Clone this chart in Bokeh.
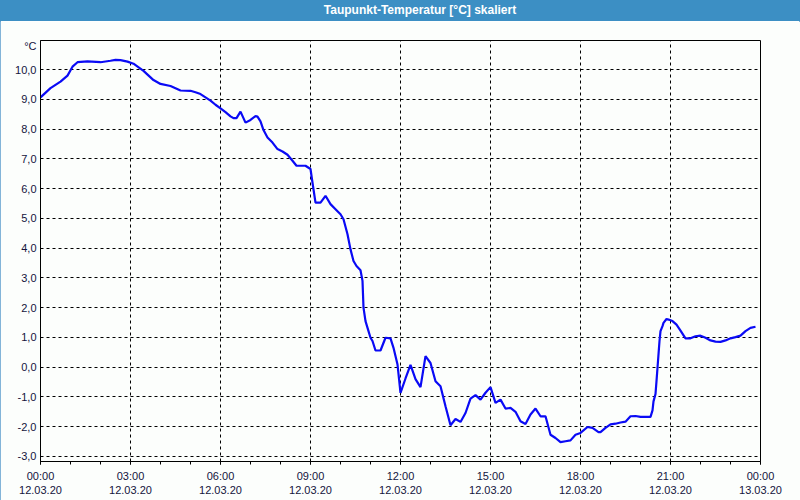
from bokeh.plotting import figure
from bokeh.models import Range1d, FixedTicker, Div
from bokeh.layouts import column
from bokeh.embed import file_html
from bokeh.resources import INLINE

# time in minutes since 12.03.20 00:00, dew point in °C
minutes = [0, 20, 40, 54, 64, 74, 94, 120, 140, 150, 160, 174, 186, 206, 226, 240,
           260, 280, 300, 310, 320, 330, 340, 350, 360, 370, 380, 386, 392, 400, 410,
           420, 430, 434, 440, 446, 454, 464, 474, 484, 494, 504, 512, 530, 540, 544,
           550, 560, 570, 580, 590, 600, 606, 614, 620, 626, 632, 640, 644, 646, 650,
           656, 660, 664, 670, 680, 690, 700, 706, 714, 720, 730, 740, 750, 760, 770,
           780, 790, 800, 810, 820, 830, 840, 850, 860, 870, 880, 890, 900, 910, 920,
           930, 940, 950, 960, 970, 980, 990, 1000, 1010, 1020, 1030, 1040, 1050, 1060,
           1070, 1080, 1094, 1104, 1116, 1120, 1130, 1140, 1150, 1160, 1170, 1180, 1190,
           1200, 1220, 1224, 1226, 1230, 1232, 1234, 1236, 1238, 1240, 1244, 1246, 1252,
           1256, 1264, 1272, 1280, 1290, 1300, 1310, 1320, 1330, 1340, 1350, 1360, 1370,
           1380, 1390, 1400, 1410, 1420, 1430]
dewpoint = [9.07, 9.38, 9.6, 9.8, 10.1, 10.25, 10.28, 10.25, 10.3, 10.33, 10.32, 10.27,
            10.2, 9.96, 9.65, 9.52, 9.45, 9.3, 9.29, 9.24, 9.18, 9.07, 8.96, 8.82, 8.7,
            8.57, 8.43, 8.37, 8.37, 8.59, 8.22, 8.31, 8.44, 8.42, 8.26, 7.97, 7.72, 7.55,
            7.33, 7.25, 7.14, 6.94, 6.77, 6.77, 6.66, 6.2, 5.53, 5.53, 5.76, 5.48, 5.31,
            5.14, 4.97, 4.47, 3.96, 3.57, 3.4, 3.26, 2.9, 2.0, 1.55, 1.21, 0.99, 0.88,
            0.56, 0.56, 0.99, 0.97, 0.65, 0.09, -0.86, -0.38, 0.08, -0.4, -0.67, 0.37,
            0.14, -0.47, -0.64, -1.31, -1.95, -1.74, -1.84, -1.54, -1.06, -0.94, -1.09,
            -0.86, -0.67, -1.2, -1.09, -1.39, -1.37, -1.5, -1.82, -1.91, -1.59, -1.39,
            -1.65, -1.65, -2.27, -2.38, -2.52, -2.49, -2.46, -2.27, -2.21, -2.01, -2.04,
            -2.18, -2.18, -2.04, -1.92, -1.9, -1.86, -1.83, -1.65, -1.64, -1.67, -1.67,
            -1.45, -1.15, -0.9, -0.47, -0.02, 0.43, 0.88, 1.21, 1.38, 1.49, 1.62, 1.6,
            1.55, 1.43, 1.23, 0.97, 0.97, 1.04, 1.06, 0.99, 0.9, 0.86, 0.85, 0.9, 0.97,
            1.01, 1.06, 1.21, 1.32, 1.36]

x_ticks_h = [0, 3, 6, 9, 12, 15, 18, 21, 24]
x_tick_labels = ["00:00\n12.03.20", "03:00\n12.03.20", "06:00\n12.03.20",
                 "09:00\n12.03.20", "12:00\n12.03.20", "15:00\n12.03.20",
                 "18:00\n12.03.20", "21:00\n12.03.20", "00:00\n13.03.20"]
y_ticks = [-3, -2, -1, 0, 1, 2, 3, 4, 5, 6, 7, 8, 9, 10]
y_tick_labels = ["-3,0", "-2,0", "-1,0", "0,0", "1,0", "2,0", "3,0", "4,0", "5,0",
                 "6,0", "7,0", "8,0", "9,0", "10,0"]
title_text = "Taupunkt-Temperatur [°C] skaliert"
unit_text = "°C"
unit_pos = 10.78  # where the unit sits on the value axis, just below the top

FONT = "Liberation Sans"
TXT = "#14143c"
BG = "#fcfefc"

hours = [m / 60.0 for m in minutes]

p = figure(width=800, height=479, output_backend="svg", toolbar_location=None,
           x_range=Range1d(0, 24), y_range=Range1d(-3.17, 10.98),
           min_border_left=40, min_border_right=40, min_border_top=19,
           min_border_bottom=39, background_fill_color=BG, border_fill_color=BG,
           margin=(0, 0, 0, 0))
p.outline_line_color = "black"
p.outline_line_width = 1

p.line(hours, dewpoint, line_color="#0a0af5", line_width=2.2)

xa = p.xaxis[0]
xa.ticker = FixedTicker(ticks=x_ticks_h, minor_ticks=list(range(25)))
xa.major_label_overrides = {t: l for t, l in zip(x_ticks_h, x_tick_labels)}
xa.major_tick_in = 0
xa.major_tick_out = 3
xa.minor_tick_in = 0
xa.minor_tick_out = 3
xa.major_label_standoff = 5
xa.major_label_text_font = FONT
xa.major_label_text_font_size = "11px"
xa.major_label_text_color = TXT
xa.axis_line_color = "black"

ya = p.yaxis[0]
ya.ticker = FixedTicker(ticks=y_ticks + [unit_pos], minor_ticks=[])
overrides = {t: l for t, l in zip(y_ticks, y_tick_labels)}
overrides[unit_pos] = unit_text
ya.major_label_overrides = overrides
ya.major_tick_in = 0
ya.major_tick_out = 0
ya.minor_tick_out = 0
ya.major_label_standoff = 4
ya.major_label_text_font = FONT
ya.major_label_text_font_size = "11px"
ya.major_label_text_color = TXT
ya.axis_line_color = "black"

p.xgrid[0].ticker = FixedTicker(ticks=x_ticks_h)
p.ygrid[0].ticker = FixedTicker(ticks=y_ticks)
for g in (p.xgrid[0], p.ygrid[0]):
    g.grid_line_color = "black"
    g.grid_line_dash = "3 3"
    g.grid_line_width = 1

title = Div(text=title_text, width=800, height=21, margin=(0, 0, 0, 0),
            styles={"background-color": "#3c8fc4", "color": "white",
                    "font-weight": "bold", "font-family": FONT, "font-size": "12px",
                    "text-align": "center", "line-height": "21px",
                    "padding-left": "40px", "box-sizing": "border-box"})

layout = column(title, p, spacing=0, margin=(0, 0, 0, 0),
                styles={"outline": "1px solid #5b9bcc", "outline-offset": "-1px"})
open("out.html", "w").write(file_html(layout, INLINE))
